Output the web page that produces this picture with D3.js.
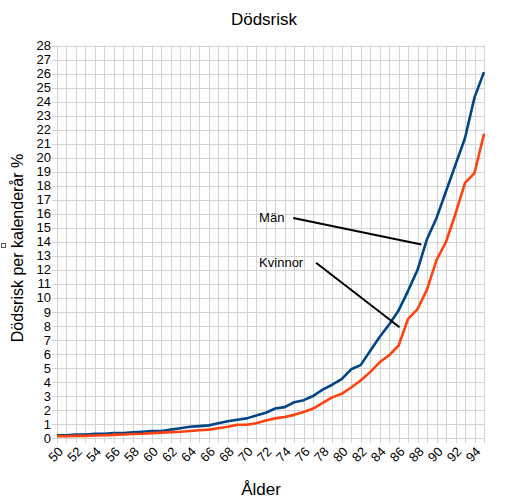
<!DOCTYPE html>
<html>
<head>
<meta charset="utf-8">
<script src="https://cdn.jsdelivr.net/npm/d3@7"></script>
<style>
  html, body { margin: 0; padding: 0; background: #fff; }
  svg { display: block; font-family: "Liberation Sans", Arial, sans-serif; }
</style>
</head>
<body>
<div id="chart"></div>
<script>
// Dödsrisk per ålder — två linjer (män / kvinnor)

const ages = d3.range(50, 96)
const man = [
  0.2, 0.2, 0.25, 0.25, 0.3, 0.3, 0.35, 0.35, 0.4, 0.45,
  0.5, 0.5, 0.6, 0.7, 0.8, 0.85, 0.9, 1.05, 1.2, 1.3,
  1.4, 1.6, 1.8, 2.1, 2.2, 2.55, 2.7, 3.0, 3.45, 3.8,
  4.2, 4.9, 5.2, 6.2, 7.2, 8.1, 9.1, 10.5, 12.0, 14.2,
  15.7, 17.6, 19.5, 21.4, 24.3, 26.1
]
const kvinnor = [
  0.12, 0.12, 0.15, 0.15, 0.18, 0.2, 0.22, 0.25, 0.28, 0.3,
  0.35, 0.38, 0.42, 0.45, 0.5, 0.55, 0.6, 0.7, 0.8, 0.95,
  0.95, 1.05, 1.25, 1.4, 1.5, 1.65, 1.85, 2.1, 2.5, 2.9,
  3.15, 3.6, 4.1, 4.7, 5.4, 5.9, 6.6, 8.5, 9.2, 10.6,
  12.7, 14.0, 16.0, 18.2, 18.9, 21.7
]
const xTicks = d3.range(50, 95, 2)
const yTicks = d3.range(0, 29, 1)

// annotationer i dataenheter: text, textpunkt, linjestart, linjeslut
const notes = [
  { label: "Män", at: [71.3, 15.7], from: [74.9, 15.7], to: [88.4, 13.8] },
  { label: "Kvinnor", at: [71.3, 12.5], from: [77.3, 12.5], to: [86.1, 7.9] },
]

const W = 513, H = 500
const margin = { top: 45.5, right: 29, bottom: 62, left: 57 }

const svg = d3.select("#chart").append("svg")
  .attr("width", W).attr("height", H)

const x = d3.scaleLinear().domain([50, 95]).range([margin.left, W - margin.right])
const y = d3.scaleLinear().domain([0, 28]).range([H - margin.bottom, margin.top])

// rutnät
const grid = svg.append("g").attr("stroke", "#d3d3d3").attr("stroke-width", 1)
grid.selectAll("line.v").data(d3.range(50, 96)).join("line")
  .attr("x1", d => Math.round(x(d)) + 0.5).attr("x2", d => Math.round(x(d)) + 0.5)
  .attr("y1", y(28)).attr("y2", y(0) + 5)
grid.selectAll("line.h").data(yTicks).join("line")
  .attr("x1", x(50) - 5).attr("x2", x(95))
  .attr("y1", d => Math.round(y(d)) + 0.5).attr("y2", d => Math.round(y(d)) + 0.5)

// y-axel
svg.append("g")
  .attr("transform", `translate(${x(50) - 5},0)`)
  .call(d3.axisLeft(y).tickValues(yTicks).tickSize(0).tickPadding(1))
  .call(s => s.select(".domain").remove())
  .call(s => s.selectAll("text").attr("font-size", 13).attr("fill", "#000")
    .attr("font-family", "Liberation Sans, Arial, sans-serif"))

// x-axel, roterade etiketter
svg.append("g")
  .attr("transform", `translate(0,${y(0) + 8})`)
  .call(d3.axisBottom(x).tickValues(xTicks).tickSize(0).tickPadding(0))
  .call(s => s.select(".domain").remove())
  .call(s => s.selectAll("text")
    .attr("font-size", 13).attr("fill", "#000")
    .attr("font-family", "Liberation Sans, Arial, sans-serif")
    .attr("text-anchor", "end")
    .attr("y", 0)
    .attr("dy", "0.7em").attr("dx", "0")
    .attr("transform", "rotate(-45)"))

// linjer
const line = d3.line().x((d, i) => x(ages[i])).y(d => y(d))
svg.append("path").datum(man)
  .attr("fill", "none").attr("stroke", "#004586").attr("stroke-width", 2.6)
  .attr("stroke-linejoin", "round").attr("d", line)
svg.append("path").datum(kvinnor)
  .attr("fill", "none").attr("stroke", "#ff420e").attr("stroke-width", 2.6)
  .attr("stroke-linejoin", "round").attr("d", line)

// annotationer
notes.forEach(n => {
  svg.append("line")
    .attr("x1", x(n.from[0])).attr("y1", y(n.from[1]))
    .attr("x2", x(n.to[0])).attr("y2", y(n.to[1]))
    .attr("stroke", "#000").attr("stroke-width", 2)
  svg.append("text")
    .attr("x", x(n.at[0])).attr("y", y(n.at[1]))
    .attr("dy", "0.35em")
    .attr("font-size", 13).attr("fill", "#000")
    .text(n.label)
})

// titlar
svg.append("text")
  .attr("x", 264).attr("y", 25)
  .attr("text-anchor", "middle").attr("font-size", 17).attr("fill", "#000")
  .text("Dödsrisk")

svg.append("text")
  .attr("x", 261).attr("y", 495)
  .attr("text-anchor", "middle").attr("font-size", 17).attr("fill", "#000")
  .text("Ålder")

svg.append("text")
  .attr("transform", "rotate(-90)")
  .attr("x", -248).attr("y", 23)
  .attr("text-anchor", "middle").attr("font-size", 16).attr("fill", "#000")
  .text("Dödsrisk per kalenderår %")

// liten ruta vid y-etiketten
svg.append("rect")
  .attr("x", 1.5).attr("y", 243.5).attr("width", 4).attr("height", 4)
  .attr("fill", "none").attr("stroke", "#555").attr("stroke-width", 1)
</script>
</body>
</html>
